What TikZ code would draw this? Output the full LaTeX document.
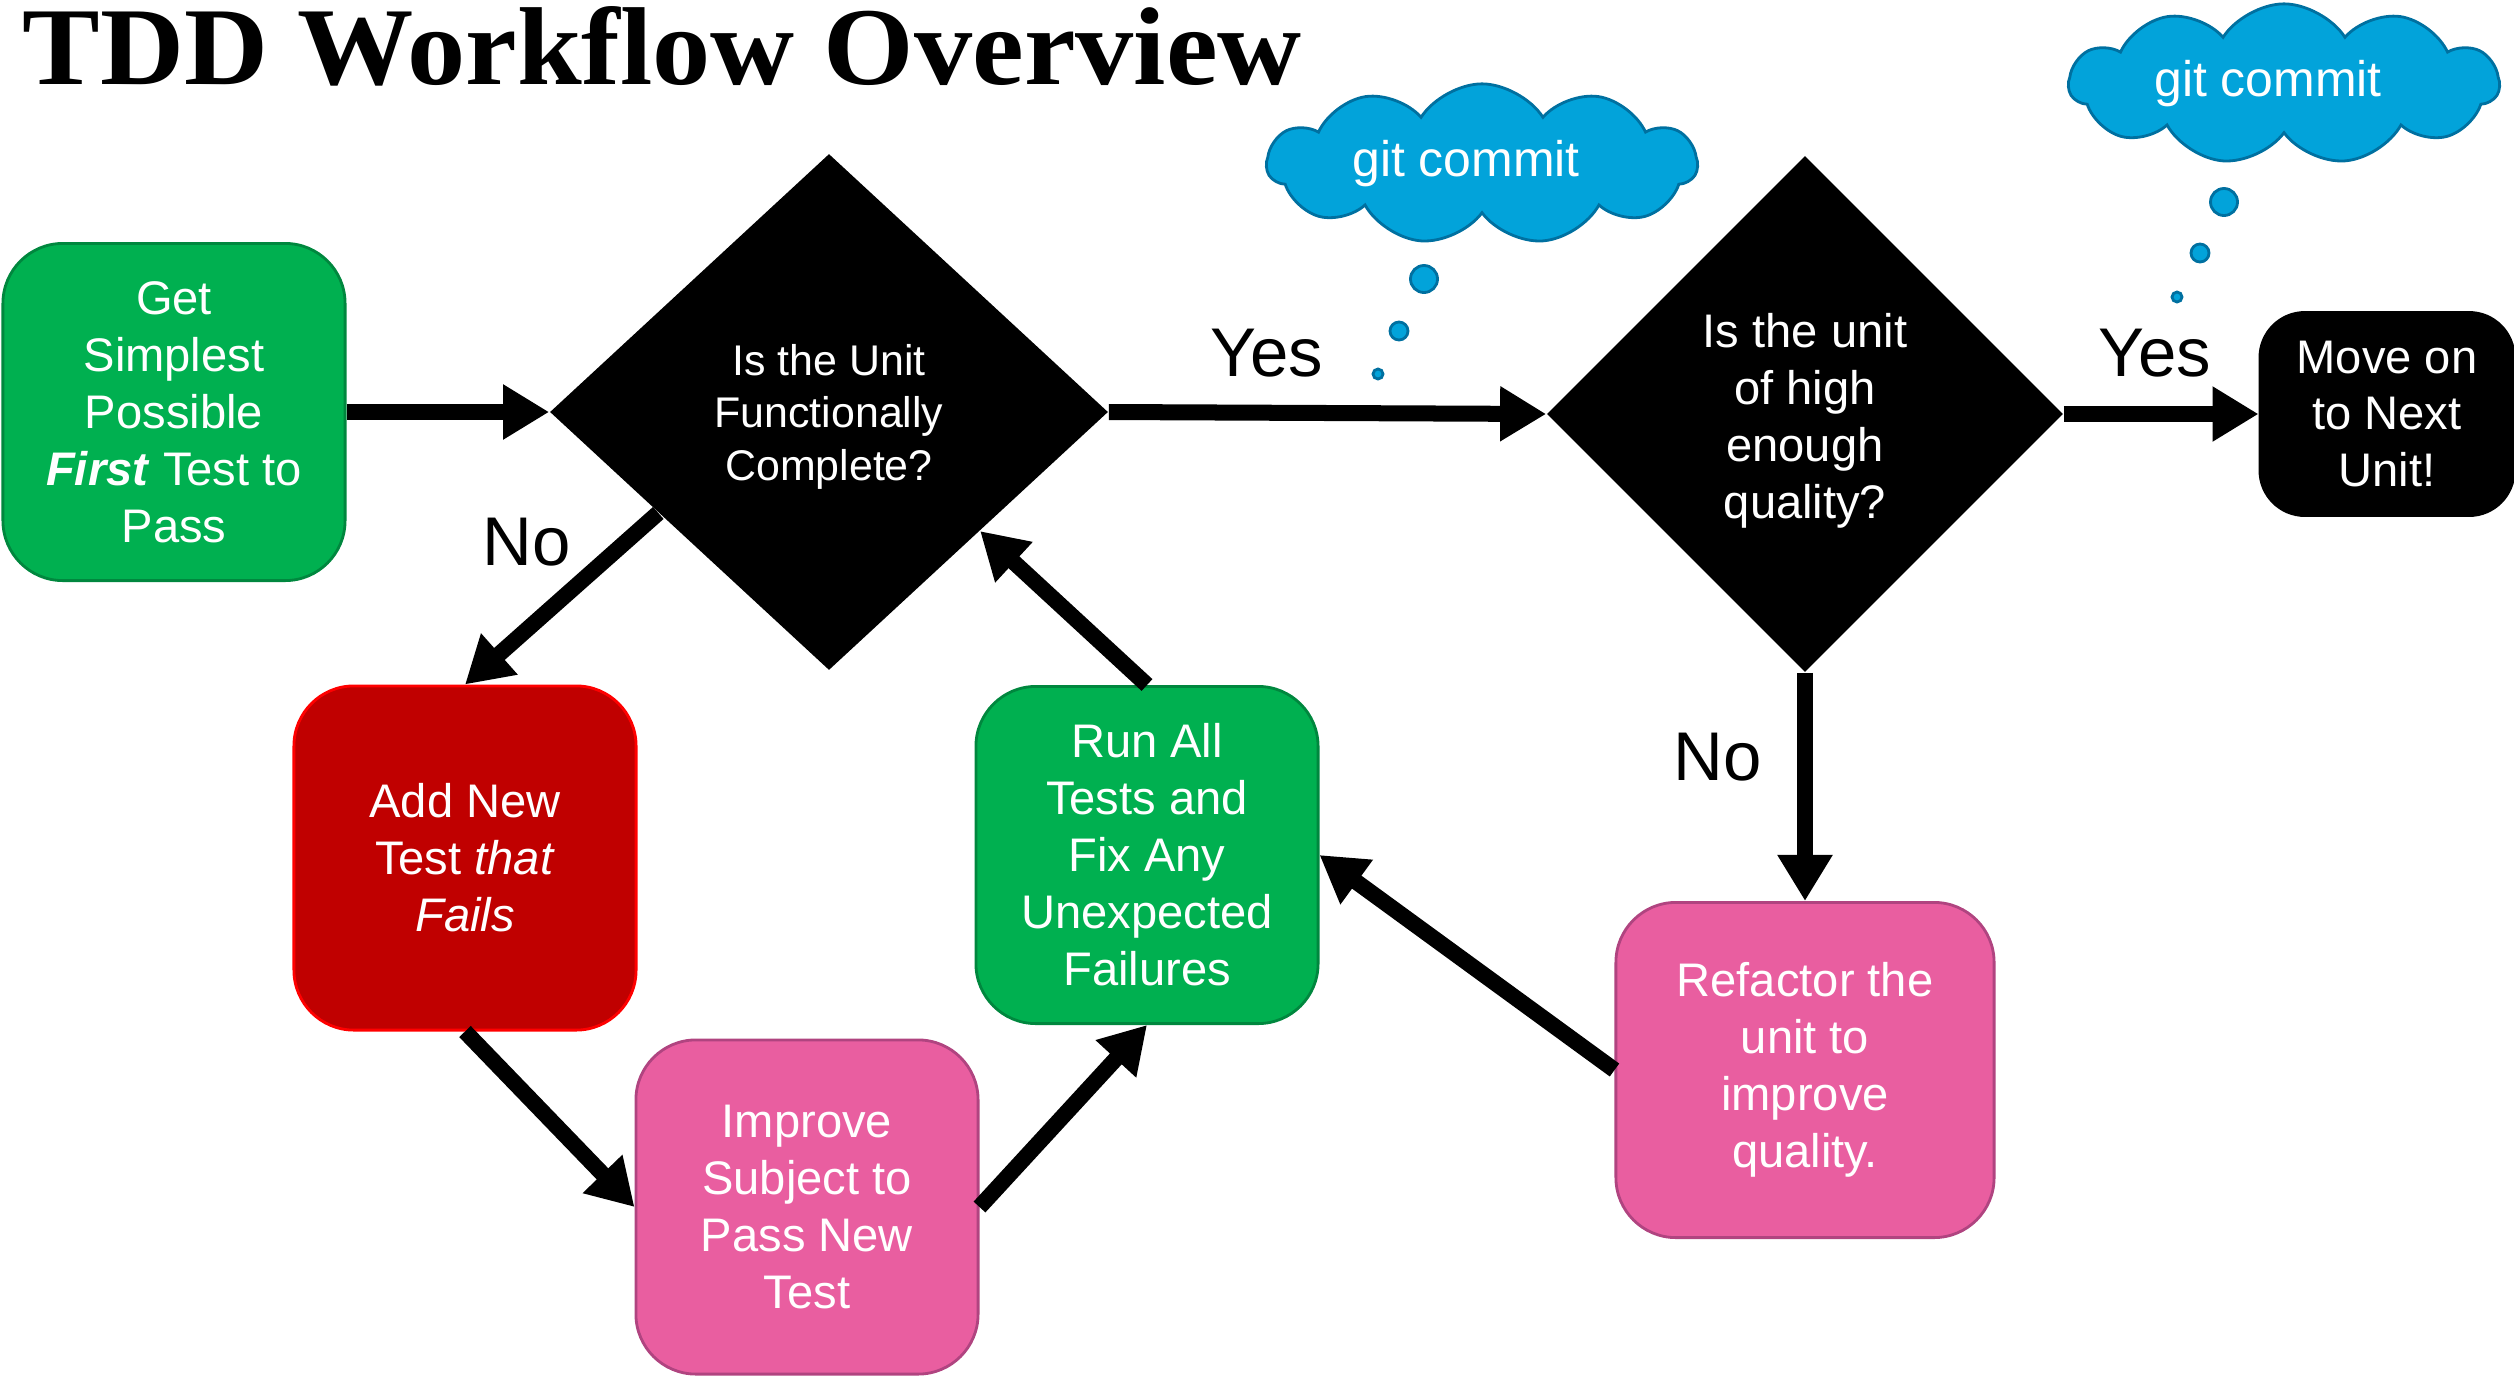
\documentclass[tikz,border=0pt]{standalone}
\usepackage{fontspec}
\setmainfont{Liberation Sans}
\newfontfamily\titlefont[FakeStretch=1.05]{Liberation Serif}
\usetikzlibrary{arrows.meta,shapes.geometric,shapes.symbols,calc}

\definecolor{passgreen}{RGB}{0,176,80}
\definecolor{passgreenline}{RGB}{0,135,62}
\definecolor{failred}{RGB}{192,0,0}
\definecolor{failredline}{RGB}{255,0,0}
\definecolor{refpink}{RGB}{233,94,160}
\definecolor{refpinkline}{RGB}{176,68,128}
\definecolor{gitblue}{RGB}{2,163,218}
\definecolor{gitblueline}{RGB}{0,112,160}

\def\boxfont{\fontsize{13.4}{16.2}\selectfont}
\def\bubble#1#2#3#4{\node[circle, fill=gitblue, draw=gitblueline, line width=0.8pt, inner sep=0, minimum size=#4] (#1) at (#2,#3) {};}

\begin{document}
\begin{tikzpicture}[x=0.01cm, y=-0.01cm,
    task/.style={rectangle, rounded corners=0.6cm, minimum width=3.42cm,
        minimum height=3.37cm, inner sep=0, align=center, text=white,
        font=\boxfont, line width=0.8pt},
    question/.style={diamond, fill=black, text=white, inner sep=0, align=center},
    thought/.style={cloud, cloud puffs=11, cloud puff arc=115, aspect=3.4,
        fill=gitblue, draw=gitblueline, line width=0.8pt, text=white, inner sep=0,
        font=\fontsize{14.2}{17}\selectfont,
        minimum width=4.3cm, minimum height=1.3cm},
    answer/.style={font=\fontsize{19.6}{23}\selectfont, inner sep=0},
    flow/.style={line width=0.16cm, -{Triangle[length=0.46cm, width=0.52cm]}}]
    \useasboundingbox (0,0) rectangle (2514,1375);

    \node[anchor=base west, inner sep=0, font=\titlefont\bfseries\fontsize{31.5}{34}\selectfont] (title) at (22,84) {TDD Workflow Overview};

    % flow chart
    \node[task, fill=passgreen, draw=passgreenline] (first) at (174,412)
        {Get\\Simplest\\Possible\\\textbf{\textit{First}} Test to\\Pass};
    \node[question, minimum width=5.58cm, minimum height=5.16cm,
        font=\fontsize{12.2}{15}\selectfont] (done) at (829,412)
        {\\[-0.12cm]Is the Unit\\Functionally\\Complete?};
    \node[question, minimum width=5.16cm, minimum height=5.16cm,
        font=\boxfont] (quality) at (1805,414)
        {\\[-0.1cm]Is the unit\\of high\\enough\\quality?};
    \node[task, fill=black, draw=black, rounded corners=0.45cm,
        minimum width=2.54cm, minimum height=2.03cm] (next) at (2387,414)
        {Move on\\to Next\\Unit!};
    \node[task, fill=failred, draw=failredline, minimum height=3.44cm] (addtest) at (465,858)
        {Add New\\Test \textit{that}\\\textit{Fails}};
    \node[task, fill=refpink, draw=refpinkline, minimum height=3.34cm] (improve) at (807,1207)
        {Improve\\Subject to\\Pass New\\Test};
    \node[task, fill=passgreen, draw=passgreenline] (runall) at (1147,855)
        {Run All\\Tests and\\Fix Any\\Unexpected\\Failures};
    \node[task, fill=refpink, draw=refpinkline, minimum width=3.78cm,
        minimum height=3.35cm] (refactor) at (1805,1070)
        {Refactor the\\unit to\\improve\\quality.};

    \coordinate (doneno) at ($(done.west)!0.39!(done.south)$);
    \coordinate (doneback) at ($(done.east)!0.46!(done.south)$);

    \draw[flow] (first.east) -- (done.west);
    \draw[flow] (doneno) -- (addtest.north);
    \draw[flow] (addtest.south) -- (improve.west);
    \draw[flow] (improve.east) -- (runall.south);
    \draw[flow] (runall.north) -- (doneback);
    \draw[flow] (done.east) -- (quality.west);
    \draw[flow] (quality.east) -- (next.west);
    \draw[flow] (quality.south) -- (refactor.north);
    \draw[flow] (refactor.west) -- (runall.east);

    \node[answer] (yesdone) at (1267,353) {Yes};
    \node[answer] (nodone) at (527,542) {No};
    \node[answer] (yesquality) at (2155,353) {Yes};
    \node[answer] (noquality) at (1718,757) {No};

    % commits
    \node[thought] (commitA) at (1482,164) {git commit\hspace*{0.32cm}};
    \bubble{commitAa}{1424}{279}{0.27cm}
    \bubble{commitAb}{1399}{331}{0.18cm}
    \bubble{commitAc}{1378}{374}{0.1cm}
    \node[thought] (commitB) at (2284,84) {git commit\hspace*{0.32cm}};
    \bubble{commitBa}{2224}{202}{0.27cm}
    \bubble{commitBb}{2200}{253}{0.18cm}
    \bubble{commitBc}{2177}{297}{0.1cm}
\end{tikzpicture}
\end{document}
